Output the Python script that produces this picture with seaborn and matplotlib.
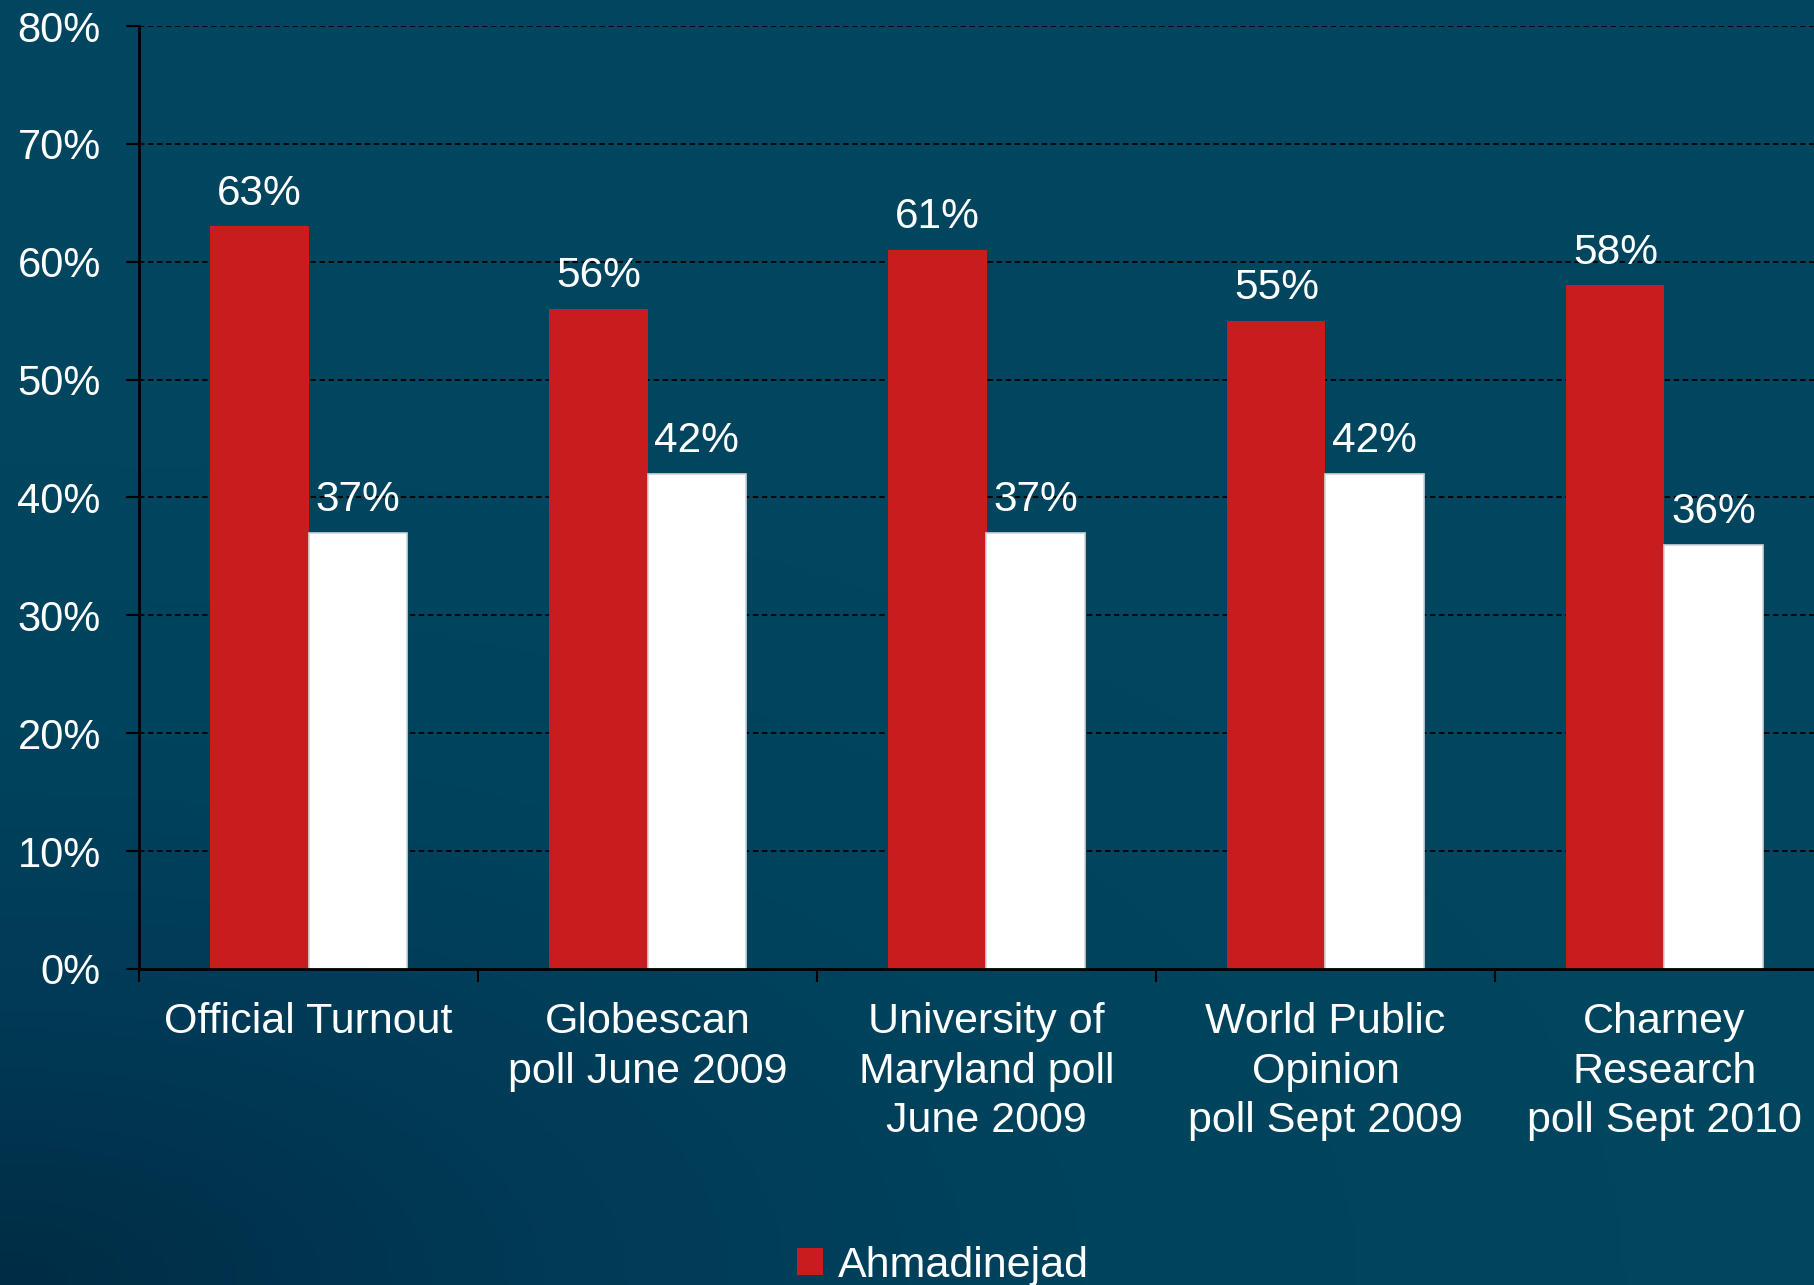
import numpy as np
import pandas as pd
import matplotlib
matplotlib.use("Agg")
import matplotlib.pyplot as plt
import seaborn as sns
from matplotlib.colors import LinearSegmentedColormap

categories = ["Official Turnout", "Globescan\npoll June 2009", "University of\nMaryland poll\nJune 2009",
              "World Public\nOpinion\npoll Sept 2009", "Charney\nResearch\npoll Sept 2010"]
series_names = ["Ahmadinejad", "Others"]
ahmadinejad = [63, 56, 61, 55, 58]
others = [37, 42, 37, 42, 36]
y_ticks = [0, 10, 20, 30, 40, 50, 60, 70, 80]
y_tick_labels = [f"{t}%" for t in y_ticks]

RED = "#C81C1F"
WHITE = "#FFFFFF"

sns.set_theme(style="white")
plt.rcParams["font.family"] = ["Liberation Sans", "DejaVu Sans"]

df = pd.DataFrame({
    "category": categories * 2,
    "series": [series_names[0]] * len(categories) + [series_names[1]] * len(categories),
    "value": ahmadinejad + others,
})

W, H = 1815, 1285
fig = plt.figure(figsize=(W / 100, H / 100), dpi=100)

# background gradient: darker toward the bottom-left corner
bg = fig.add_axes([0, 0, 1, 1], zorder=0)
yy, xx = np.mgrid[0:1:300j, 0:1:300j]
d = np.sqrt((xx * 1.0) ** 2 + (yy * 1.4) ** 2)
t = np.clip(d / 0.9, 0, 1)
cmap = LinearSegmentedColormap.from_list("bgc", ["#002C45", "#003A56", "#00435D", "#02455F"])
bg.imshow(t, cmap=cmap, aspect="auto", extent=[0, 1, 0, 1], origin="lower")
bg.axis("off")

left = 139 / W
bottom = (H - 969) / H
width = (1834 - 139) / W
height = (969 - 26) / H
ax = fig.add_axes([left, bottom, width, height], zorder=1)
ax.patch.set_alpha(0)

sns.barplot(data=df, x="category", y="value", hue="series", order=categories,
            hue_order=series_names, palette=[RED, WHITE], width=0.58, saturation=1,
            ax=ax, legend=True, edgecolor="none", linewidth=0)

for cont in ax.containers:
    vals = [int(round(b.get_height())) for b in cont]
    ax.bar_label(cont, labels=[f"{v}%" for v in vals], padding=9, color="white", fontsize=30.5)

for b in ax.containers[1]:
    b.set_edgecolor("#D0D4D8")
    b.set_linewidth(1.2)

ax.set_ylim(0, 80)
ax.set_xlim(-0.5, len(categories) - 0.5)
ax.set_yticks(y_ticks)
ax.set_yticklabels(y_tick_labels)
ax.yaxis.grid(True, linestyle=(0, (3, 2)), color="black", linewidth=1.3)
ax.set_axisbelow(True)

ax.set_xticks(np.arange(-0.5, len(categories), 1.0))
ax.set_xticklabels([""] * (len(categories) + 1))
ax.set_xticks(np.arange(len(categories)), minor=True)
ax.set_xticklabels(categories, minor=True, fontsize=31, color="white", linespacing=1.3)
ax.tick_params(axis="x", which="minor", length=0, pad=24)
ax.tick_params(axis="x", which="major", length=9, width=1.5, color="black", direction="out")
ax.tick_params(axis="y", length=9.5, width=1.5, color="black", direction="out", pad=18,
               labelsize=30, labelcolor="white")
ax.tick_params(left=True, bottom=True, which="both")
ax.tick_params(axis="x", which="minor", bottom=False)

for s in ["top", "right"]:
    ax.spines[s].set_visible(False)
for s in ["left", "bottom"]:
    ax.spines[s].set_color("black")
    ax.spines[s].set_linewidth(2)
ax.set_xlabel("")
ax.set_ylabel("")

handles, labels = ax.get_legend_handles_labels()
ax.legend(handles[:1], labels[:1], loc="upper left", bbox_to_anchor=(797 / W, 1 - 1246 / H),
          bbox_transform=fig.transFigure, frameon=False, fontsize=31, labelcolor="white",
          handlelength=0.6, handleheight=0.6, handletextpad=0.35, borderpad=0, borderaxespad=0)

fig.savefig("out.png", dpi=100)
